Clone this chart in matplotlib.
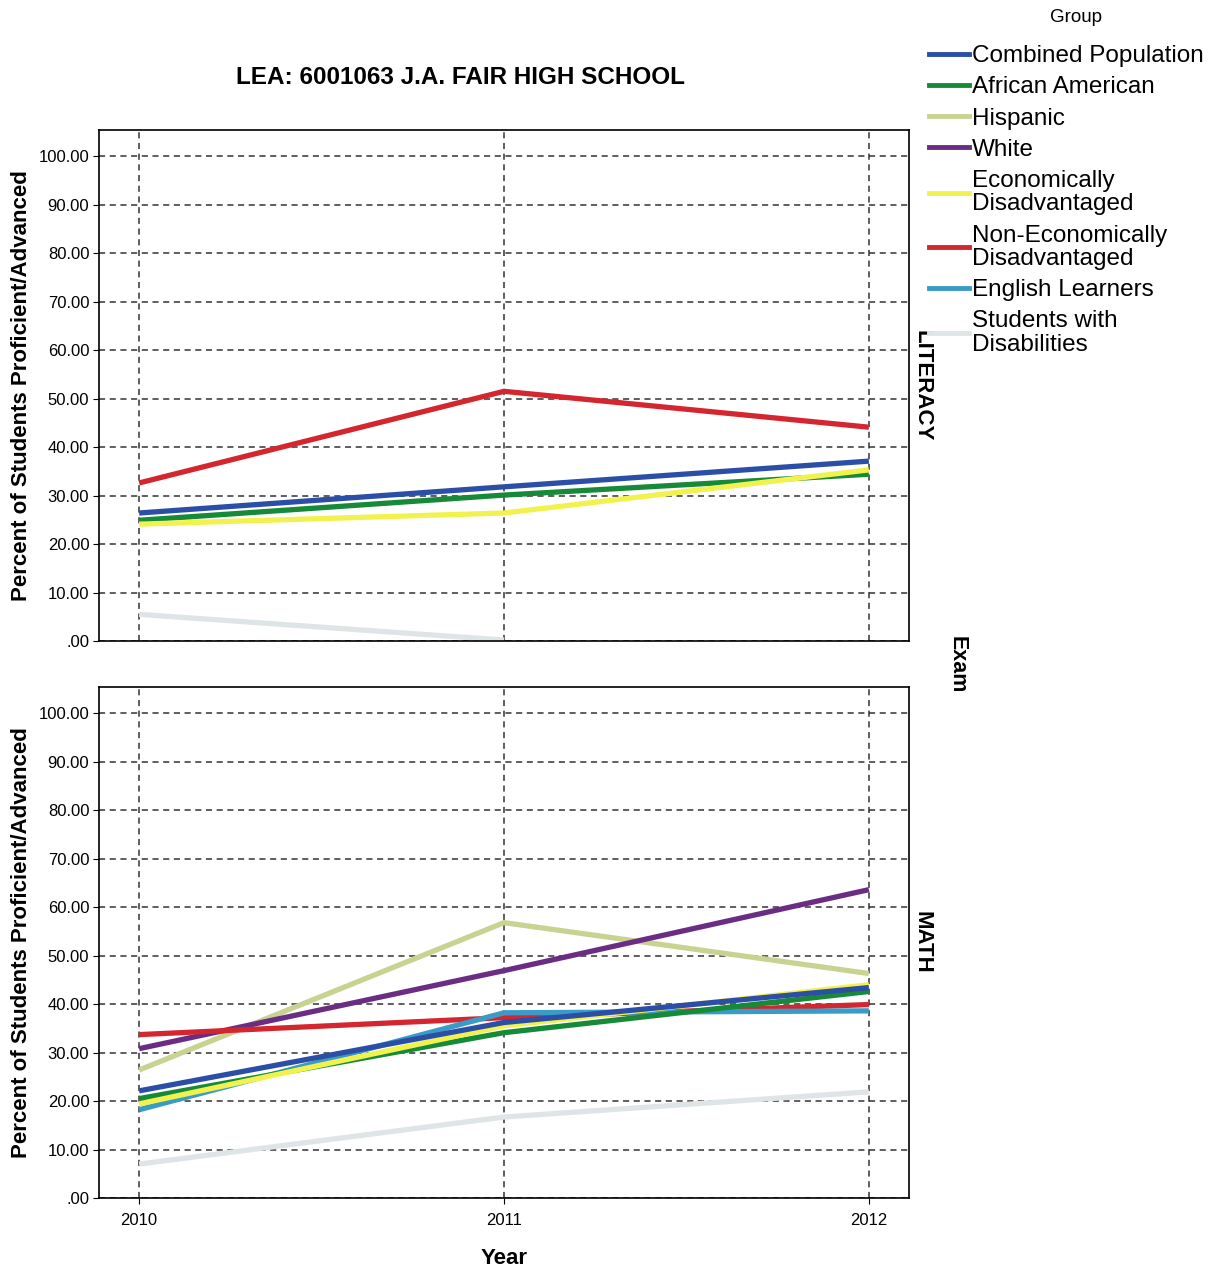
import matplotlib
matplotlib.use("Agg")
import matplotlib.pyplot as plt

plt.rcParams['font.family'] = ['Liberation Sans', 'DejaVu Sans']

# data
years = [2010, 2011, 2012]
groups = ["Combined Population", "African American", "Hispanic", "White",
          "Economically\nDisadvantaged", "Non-Economically\nDisadvantaged",
          "English Learners", "Students with\nDisabilities"]
colors = ["#2b4ea6", "#178a3a", "#c9d391", "#6b2c84", "#f2f24e", "#d3262f",
          "#3a9cc6", "#dfe5e6"]

# literacy: None where the group has no value
literacy = {
    "Combined Population": [26.4, 31.8, 37.1],
    "African American": [24.9, 30.1, 34.4],
    "Economically\nDisadvantaged": [24.1, 26.4, 35.3],
    "Non-Economically\nDisadvantaged": [32.6, 51.5, 44.1],
    "Students with\nDisabilities": [5.5, 0.2, None],
}
math = {
    "Combined Population": [22.1, 36.2, 43.4],
    "African American": [20.5, 34.1, 42.6],
    "Hispanic": [26.4, 56.8, 46.3],
    "White": [30.8, 46.9, 63.6],
    "Economically\nDisadvantaged": [19.4, 35.5, 44.0],
    "Non-Economically\nDisadvantaged": [33.7, 37.2, 39.9],
    "English Learners": [18.2, 38.2, 38.6],
    "Students with\nDisabilities": [7.0, 16.7, 21.9],
}
# drawing order so the overlaps look like the original
order = [7, 2, 3, 5, 6, 1, 4, 0]

W, H = 1220, 1270
fig = plt.figure(figsize=(W / 100, H / 100), dpi=100)

def px_axes(left, top, right, bottom):
    return fig.add_axes([left / W, 1 - bottom / H, (right - left) / W, (bottom - top) / H])

ax_top = px_axes(99, 130, 909, 641)
ax_bot = px_axes(99, 687, 909, 1198)

for ax, data, label in [(ax_top, literacy, "LITERACY"), (ax_bot, math, "MATH")]:
    for i in order:
        g = groups[i]
        if g not in data:
            continue
        vals = data[g]
        xs = [y for y, v in zip(years, vals) if v is not None]
        ys = [v for v in vals if v is not None]
        ax.plot(xs, ys, color=colors[i], lw=3.8, solid_capstyle='butt')
    ax.set_xlim(2009.89, 2012.11)
    ax.set_ylim(0, 105.4)
    ax.set_yticks(range(0, 101, 10))
    ax.set_yticklabels([".00"] + ["%.2f" % v for v in range(10, 101, 10)], fontsize=12)
    ax.set_xticks(years)
    ax.grid(True, color='#333333', linestyle=(0, (4, 3)), linewidth=1.1)
    ax.set_axisbelow(True)
    for s in ax.spines.values():
        s.set_linewidth(1.2)
    ax.tick_params(axis='y', length=4, pad=3)
    ax.set_ylabel("Percent of Students Proficient/Advanced", fontsize=16,
                  fontweight='bold', labelpad=5)
    ax.text(1.003, 0.5, label, transform=ax.transAxes, rotation=270,
            ha='left', va='center', fontsize=16, fontweight='bold')

ax_top.tick_params(axis='x', labelbottom=False, length=0)
ax_bot.set_xticklabels([str(y) for y in years], fontsize=12)
ax_bot.tick_params(axis='x', length=4, pad=7)
ax_bot.set_xlabel("Year", fontsize=16, fontweight='bold', labelpad=14)

fig.text(460 / W, 1 - 78 / H, "LEA: 6001063 J.A. FAIR HIGH SCHOOL", ha='center',
         va='center', fontsize=17.5, fontweight='bold')
fig.text(957 / W, 1 - 665 / H, "Exam", rotation=270, ha='center', va='center',
         fontsize=15.5, fontweight='bold')

handles = [plt.Line2D([], [], color=colors[i], lw=3.5) for i in range(len(groups))]
leg = fig.legend(handles, groups, loc='upper left', bbox_to_anchor=(929 / W, 1 - 45 / H),
                 frameon=False, fontsize=17.5, handlelength=1.65, handletextpad=0.1,
                 labelspacing=0.38, borderaxespad=0, borderpad=0)
for t in leg.get_texts():
    t.set_linespacing(1.08)
fig.text(1076 / W, 1 - 17 / H, "Group", ha='center', va='center', fontsize=13.5)

fig.savefig("out.png", dpi=100)
